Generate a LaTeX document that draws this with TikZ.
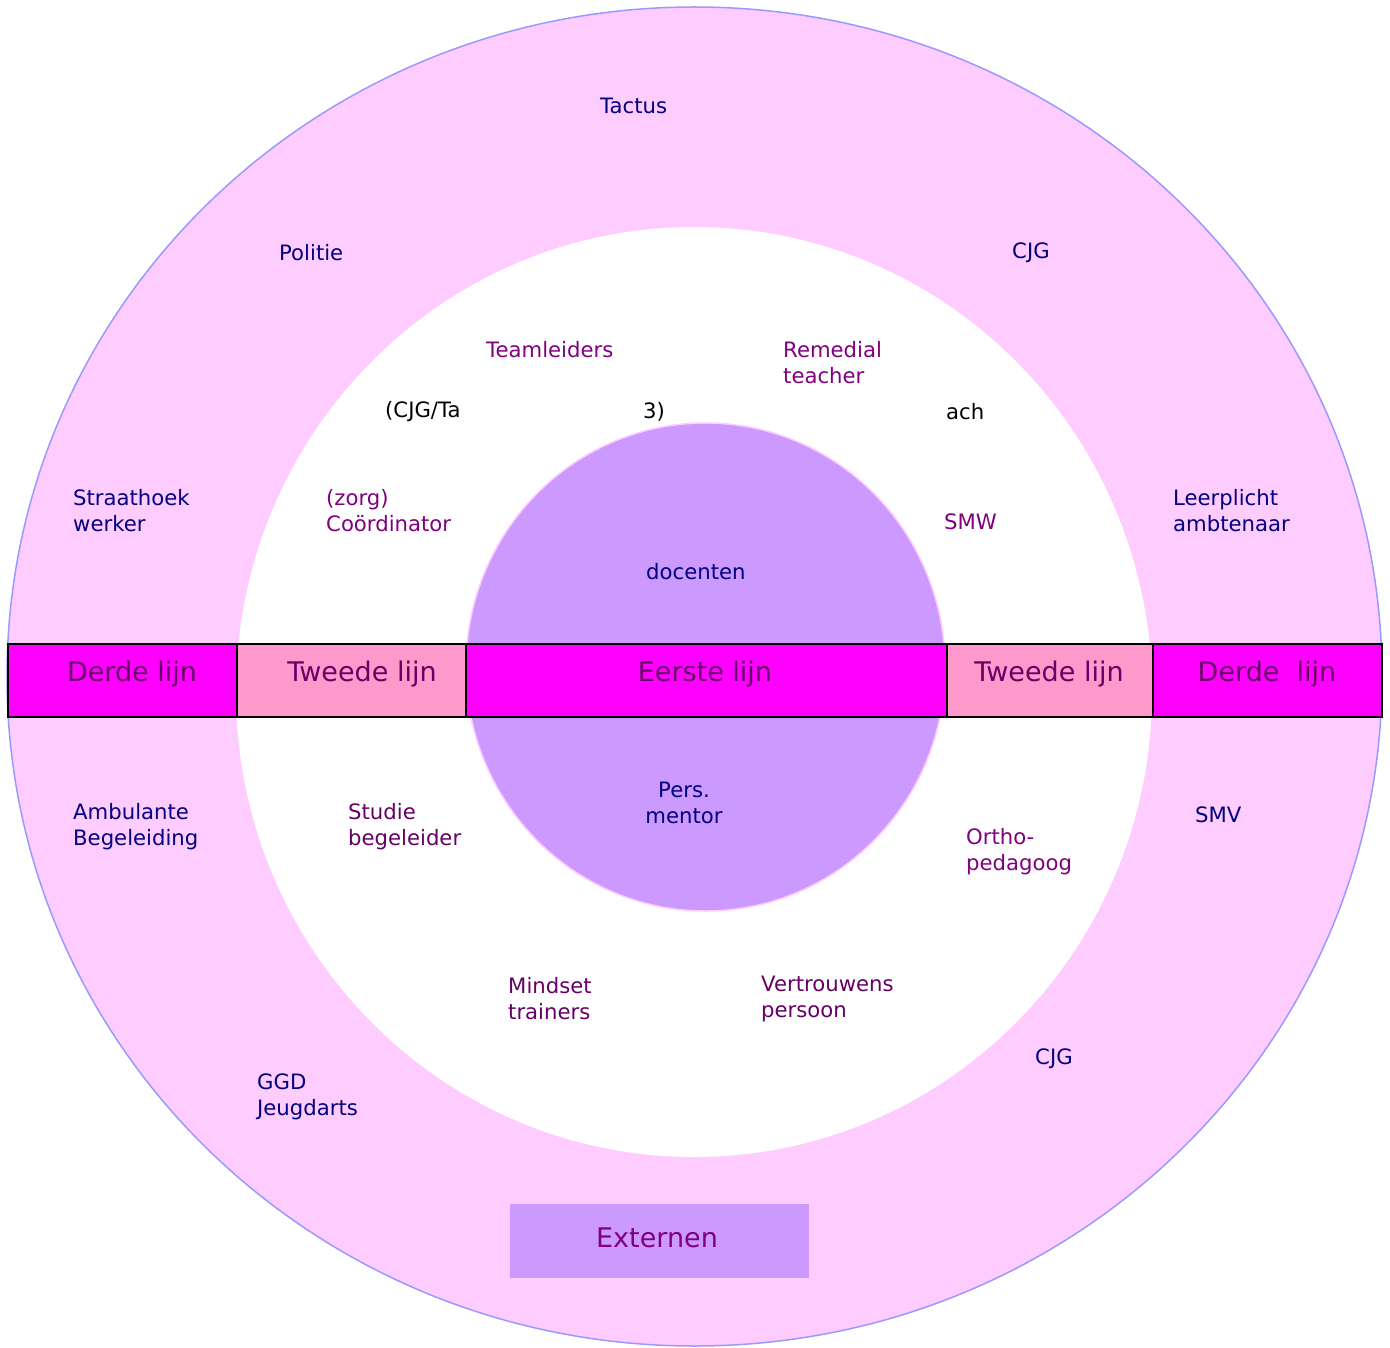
\documentclass[tikz,border=0pt]{standalone}
\usepackage{fontspec}
\setmainfont{DejaVu Sans}
\definecolor{ringpink}{HTML}{FFCCFF}
\definecolor{ringedge}{HTML}{9999FF}
\definecolor{corefill}{HTML}{CC99FF}
\definecolor{magbar}{HTML}{FF00FF}
\definecolor{pinkbar}{HTML}{FF99CC}
\definecolor{navy}{HTML}{000080}
\definecolor{purp}{HTML}{800080}
\definecolor{dpurp}{HTML}{660066}
\tikzset{
  lbl/.style={anchor=west, align=left, inner sep=0pt, font=\fontsize{21.2}{26}\selectfont},
  outerlbl/.style={lbl, text=navy},
  midlbl/.style={lbl, text=purp},
  midlbld/.style={lbl, text=dpurp},
  blacklbl/.style={lbl, text=black},
  barseg/.style={draw=black, line width=1.8pt},
  bartxt/.style={inner sep=0pt, text=dpurp, font=\fontsize{27}{32}\selectfont},
}
\begin{document}
\begin{tikzpicture}[x=1pt,y=-1pt]
\useasboundingbox (0,0) rectangle (1390,1348);
\fill[white] (0,0) rectangle (1390,1348);
% rings
\filldraw[fill=ringpink, draw=ringedge, line width=1.5pt] (694.5,676.5) ellipse [x radius=687.5, y radius=669.5];
\fill[white] (694,692) ellipse [x radius=458, y radius=465];
\filldraw[fill=corefill, draw=ringpink, line width=1.5pt] (705.5,667) ellipse [x radius=239.5, y radius=244];
% bar
\node[barseg, fill=magbar, minimum width=229, minimum height=73, inner sep=0pt, anchor=north west] (b1) at (7,643) {};
\node[barseg, fill=pinkbar, minimum width=229, minimum height=73, inner sep=0pt, anchor=north west] (b2) at (236,643) {};
\node[barseg, fill=magbar, minimum width=481, minimum height=73, inner sep=0pt, anchor=north west] (b3) at (465,643) {};
\node[barseg, fill=pinkbar, minimum width=206, minimum height=73, inner sep=0pt, anchor=north west] (b4) at (946,643) {};
\node[barseg, fill=magbar, minimum width=229, minimum height=73, inner sep=0pt, anchor=north west] (b5) at (1152,643) {};
\node[bartxt] (t1) at (132,674) {Derde lijn};
\node[bartxt] (t2) at (362,674) {Tweede lijn};
\node[bartxt] (t3) at (705,674) {Eerste lijn};
\node[bartxt] (t4) at (1049,674) {Tweede lijn};
\node[bartxt] (t5) at (1267,674) {Derde\ \ lijn};
% Externen
\node[fill=corefill, minimum width=299, minimum height=74, inner sep=0pt, anchor=north west] (ext) at (510,1204) {};
\node[bartxt, text=purp] (extt) at (657,1238) {Externen};
% outer labels
\node[outerlbl] (tactus) at (600,106) {Tactus};
\node[outerlbl] (politie) at (279,253) {Politie};
\node[outerlbl] (cjg1) at (1012,253) {CJG};
\node[outerlbl] (straat) at (73,511) {Straathoek\\werker};
\node[outerlbl] (leer) at (1173,511) {Leerplicht\\ambtenaar};
\node[outerlbl] (ambu) at (73,827) {Ambulante\\Begeleiding};
\node[outerlbl] (smv) at (1195,815) {SMV};
\node[outerlbl] (ggd) at (257,1097) {GGD\\Jeugdarts};
\node[outerlbl] (cjg2) at (1035,1059) {CJG};
% middle labels
\node[midlbl] (team) at (486,350) {Teamleiders};
\node[midlbl] (rem) at (783,363) {Remedial\\teacher};
\node[midlbl] (zorg) at (326,511) {(zorg)\\Coördinator};
\node[midlbl] (smw) at (944,522) {SMW};
\node[midlbld] (studie) at (348,827) {Studie\\begeleider};
\node[midlbl] (ortho) at (966,852) {Ortho-\\pedagoog};
\node[midlbld] (mind) at (508,999) {Mindset\\trainers};
\node[midlbld] (vert) at (761,999) {Vertrouwens\\persoon};
% partial black texts
\node[blacklbl] (p1) at (385,412) {(CJG/Ta};
\node[blacklbl] (p2) at (643,412) {3)};
\node[blacklbl] (p3) at (946,412) {ach};
% core labels
\node[outerlbl] (doc) at (646,572) {docenten};
\node[outerlbl, anchor=center, align=center] (mentor) at (684,803) {Pers.\\mentor};
\end{tikzpicture}
\end{document}
